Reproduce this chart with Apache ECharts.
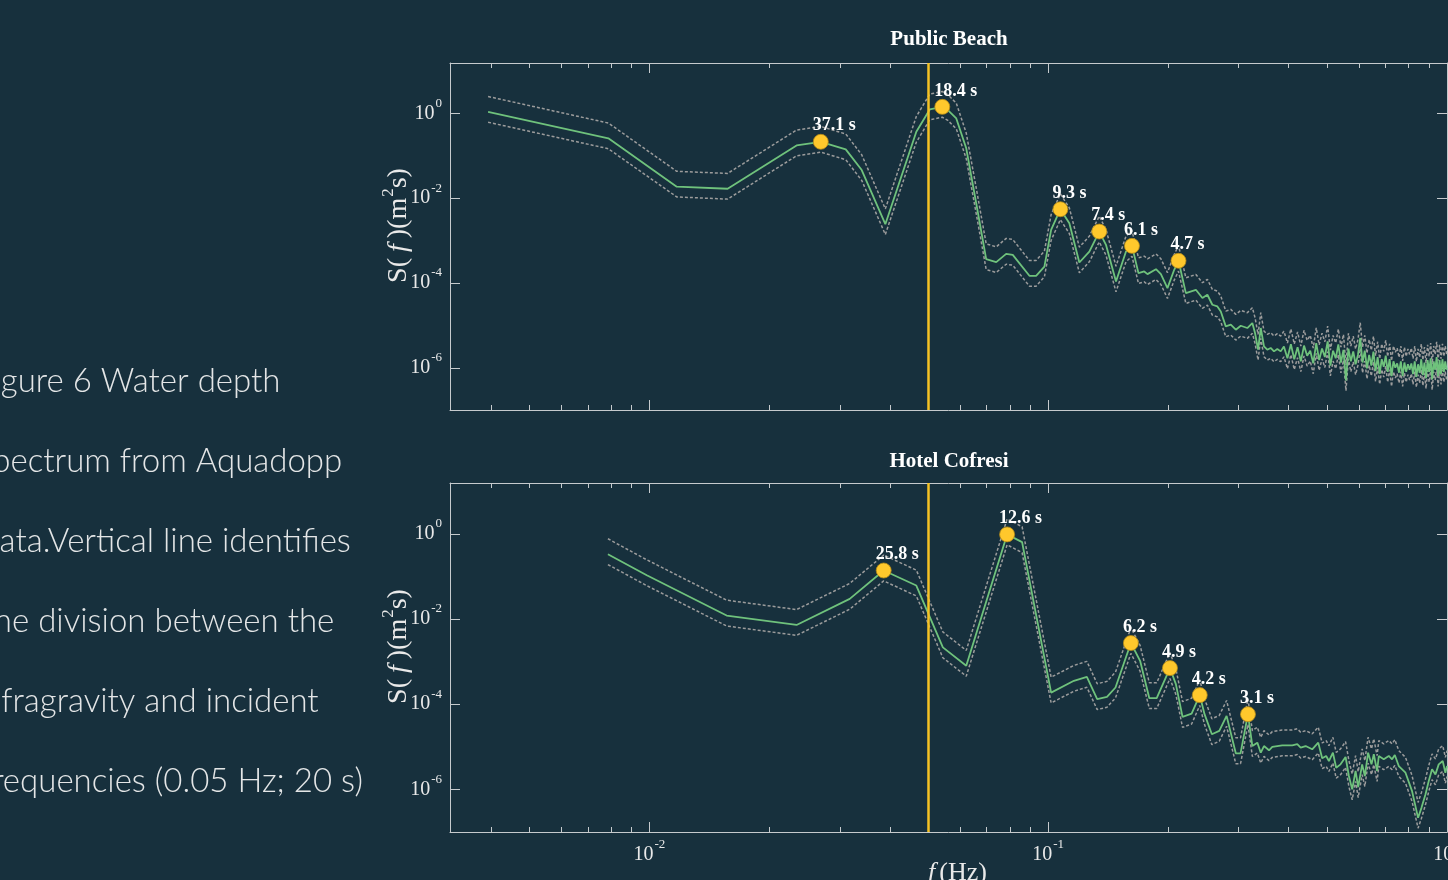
<!DOCTYPE html>
<html><head><meta charset="utf-8">
<script src="https://cdn.jsdelivr.net/npm/echarts@6/dist/echarts.min.js"></script>
<style>html,body{margin:0;padding:0;background:#17303d;overflow:hidden}#chart{width:1448px;height:880px}</style>
</head><body><div id="chart"></div>
<script>
// ---------- Public Beach (top panel) ----------
const pbFreq = [0.00394,0.00789,0.01171,0.01571,0.02339,0.02690,0.03107,0.03407,0.03905,0.04670,
0.05047,0.05426,0.05603,0.05882,0.06230,0.06599,0.06990,0.07408,0.07845,0.08149,
0.08972,0.09326,0.09783,0.1017,0.1073,0.1130,0.1197,0.1268,0.1343,0.1396,
0.1479,0.1567,0.1622,0.1684,0.1741,0.1774,0.1863,0.1917,0.1991,0.2070,
0.2122,0.2214,0.2346,0.2436,0.2507,0.2580,0.2656,0.2709,0.2788,0.2870,
0.2954,0.3040,0.3157,0.3250,0.3301,0.3359,0.3412,0.3476,0.3543,0.3613,
0.3683,0.3754,0.3828,
0.390,0.398,0.406,0.414,0.422,0.430,0.438,0.446,0.454,0.462,
0.470,0.478,0.486,0.494,0.502,0.510,0.518,0.526,0.534,0.542,
0.550,0.558,0.566,0.574,0.582,0.590,0.598,0.606,0.614,0.622,
0.630,0.638,0.646,0.654,0.662,0.670,0.678,0.686,0.694,0.702,
0.710,0.718,0.726,0.734,0.742,0.750,0.758,0.766,0.774,0.782,
0.790,0.798,0.806,0.814,0.822,0.830,0.838,0.846,0.854,0.862,
0.870,0.878,0.886,0.894,0.902,0.910,0.918,0.926,0.934,0.942,
0.950,0.958,0.966,0.974,0.982,0.990,0.998];
const pbSpec = [1.09,0.258,0.0187,0.0167,0.176,0.214,0.142,0.0461,0.00243,0.369,
1.24,1.43,1.20,0.762,0.150,0.00759,3.64e-4,3.09e-4,4.85e-4,4.59e-4,
1.47e-4,1.47e-4,2.43e-4,1.78e-3,5.48e-3,2.56e-3,3.03e-4,5.50e-4,1.63e-3,7.91e-4,
1.08e-4,5.50e-4,7.48e-4,1.70e-4,1.86e-4,1.61e-4,2.11e-4,1.61e-4,7.55e-5,2.04e-4,
3.32e-4,5.75e-5,6.87e-5,4.39e-5,5.25e-5,3.05e-5,2.78e-5,2.12e-5,9.40e-6,1.03e-5,
7.85e-6,9.75e-6,8.61e-6,1.13e-5,6.56e-6,2.65e-6,8.61e-6,3.18e-6,2.65e-6,2.91e-6,
2.42e-6,2.75e-6,2.42e-6,
3.16e-6,1.66e-6,3.55e-6,1.58e-6,3.02e-6,1.41e-6,3.31e-6,1.91e-6,2.51e-6,1.26e-6,
3.80e-6,1.51e-6,2.82e-6,1.78e-6,4.17e-6,1.12e-6,2.51e-6,1.66e-6,3.55e-6,1.32e-6,
2.63e-6,5.01e-7,2.82e-6,1.41e-6,2.40e-6,1.20e-6,2.00e-6,5.01e-6,1.32e-6,2.51e-6,
9.55e-7,2.00e-6,1.12e-6,2.40e-6,8.32e-7,1.78e-6,7.08e-7,1.58e-6,1.05e-6,1.91e-6,
7.94e-7,1.58e-6,6.31e-7,1.41e-6,1.00e-6,1.26e-6,7.59e-7,1.41e-6,6.31e-7,1.32e-6,
7.94e-7,1.20e-6,8.91e-7,1.26e-6,7.08e-7,1.41e-6,6.03e-7,1.20e-6,7.59e-7,1.58e-6,
6.61e-7,1.32e-6,5.62e-7,1.51e-6,7.94e-7,1.66e-6,5.25e-7,1.41e-6,8.91e-7,1.78e-6,
6.31e-7,1.51e-6,7.08e-7,1.58e-6,7.94e-7,1.41e-6,8.91e-7];
const pbUpper = [2.51,0.593,0.0430,0.0384,0.405,0.492,0.327,0.106,0.00559,0.849,
2.85,3.29,2.76,1.75,0.345,0.0175,8.37e-4,7.11e-4,1.12e-3,1.06e-3,
3.38e-4,3.38e-4,5.59e-4,4.09e-3,1.26e-2,5.89e-3,6.97e-4,1.27e-3,3.75e-3,1.82e-3,
2.48e-4,1.27e-3,1.72e-3,3.91e-4,4.28e-4,3.70e-4,4.85e-4,3.70e-4,1.74e-4,4.69e-4,
7.64e-4,1.32e-4,1.58e-4,1.01e-4,1.21e-4,7.02e-5,6.39e-5,4.88e-5,2.16e-5,2.37e-5,
1.81e-5,2.24e-5,1.98e-5,2.60e-5,1.51e-5,6.10e-6,1.98e-5,7.31e-6,6.10e-6,6.69e-6,
5.57e-6,6.33e-6,5.57e-6,
7.27e-6,3.82e-6,8.17e-6,3.63e-6,6.95e-6,3.24e-6,7.61e-6,4.39e-6,5.77e-6,2.90e-6,
8.74e-6,3.47e-6,6.49e-6,4.09e-6,9.59e-6,2.58e-6,5.77e-6,3.82e-6,8.17e-6,3.04e-6,
6.05e-6,1.15e-6,6.49e-6,3.24e-6,5.52e-6,2.76e-6,4.60e-6,1.15e-5,3.04e-6,5.77e-6,
2.20e-6,4.60e-6,2.58e-6,5.52e-6,1.91e-6,4.09e-6,1.63e-6,3.63e-6,2.42e-6,4.39e-6,
1.83e-6,3.63e-6,1.45e-6,3.24e-6,2.30e-6,2.90e-6,1.75e-6,3.24e-6,1.45e-6,3.04e-6,
1.83e-6,2.76e-6,2.05e-6,2.90e-6,1.63e-6,3.24e-6,1.39e-6,2.76e-6,1.75e-6,3.63e-6,
1.52e-6,3.04e-6,1.29e-6,3.47e-6,1.83e-6,3.82e-6,1.21e-6,3.24e-6,2.05e-6,4.09e-6,
1.45e-6,3.47e-6,1.63e-6,3.63e-6,1.83e-6,3.24e-6,2.05e-6];
const pbLower = [0.62,0.147,0.0107,0.0095,0.100,0.122,0.081,0.0263,0.00139,0.210,
0.707,0.815,0.684,0.434,0.0855,0.00433,2.07e-4,1.76e-4,2.76e-4,2.62e-4,
8.38e-5,8.38e-5,1.39e-4,1.01e-3,3.12e-3,1.46e-3,1.73e-4,3.14e-4,9.29e-4,4.51e-4,
6.16e-5,3.14e-4,4.26e-4,9.69e-5,1.06e-4,9.18e-5,1.20e-4,9.18e-5,4.30e-5,1.16e-4,
1.89e-4,3.28e-5,3.92e-5,2.50e-5,2.99e-5,1.74e-5,1.58e-5,1.21e-5,5.36e-6,5.87e-6,
4.47e-6,5.56e-6,4.91e-6,6.44e-6,3.74e-6,1.51e-6,4.91e-6,1.81e-6,1.51e-6,1.66e-6,
1.38e-6,1.57e-6,1.38e-6,
1.80e-6,9.46e-7,2.02e-6,9.01e-7,1.72e-6,8.04e-7,1.89e-6,1.09e-6,1.43e-6,7.18e-7,
2.17e-6,8.61e-7,1.61e-6,1.01e-6,2.38e-6,6.38e-7,1.43e-6,9.46e-7,2.02e-6,7.52e-7,
1.50e-6,2.86e-7,1.61e-6,8.04e-7,1.37e-6,6.84e-7,1.14e-6,2.86e-6,7.52e-7,1.43e-6,
5.44e-7,1.14e-6,6.38e-7,1.37e-6,4.74e-7,1.01e-6,4.04e-7,9.01e-7,5.99e-7,1.09e-6,
4.53e-7,9.01e-7,3.60e-7,8.04e-7,5.70e-7,7.18e-7,4.33e-7,8.04e-7,3.60e-7,7.52e-7,
4.53e-7,6.84e-7,5.08e-7,7.18e-7,4.04e-7,8.04e-7,3.44e-7,6.84e-7,4.33e-7,9.01e-7,
3.77e-7,7.52e-7,3.20e-7,8.61e-7,4.53e-7,9.46e-7,2.99e-7,8.04e-7,5.08e-7,1.01e-6,
3.60e-7,8.61e-7,4.04e-7,9.01e-7,4.53e-7,8.04e-7,5.08e-7];
const pbPeakFreq = [0.02690,0.05426,0.1073,0.1343,0.1622,0.2122];
const pbPeakSpec = [0.214,1.43,5.48e-3,1.63e-3,7.48e-4,3.32e-4];
const pbPeakLabels = ['37.1 s','18.4 s','9.3 s','7.4 s','6.1 s','4.7 s'];

// ---------- Hotel Cofresi (bottom panel) ----------
const hcFreq = [0.00787,0.00985,0.01562,0.02339,0.03179,0.03868,0.04670,0.05443,0.06230,0.07888,
0.0860,0.1017,0.1160,0.1250,0.1327,0.1404,0.1475,0.1612,0.1700,0.1793,
0.1871,0.2020,0.2090,0.2172,0.2289,0.2399,0.2466,0.2573,0.2685,0.2801,
0.2954,0.3036,0.3169,0.3250,0.3345,0.3412,0.3476,0.3578,0.3647,0.3862,
0.4093,0.4212,0.4296,0.4421,0.4592,0.4755,0.4864,0.4978,0.5057,0.5175,
0.5274,0.5408,0.5568,0.5675,0.5785,0.5899,0.5988,0.6127,0.6223,0.6341,
0.6466,0.6553,0.6679,0.6745,0.6941,0.7145,0.7283,0.7398,0.7570,0.7869,
0.8173,0.8462,0.8629,0.8830,0.9000,0.9173,0.9354,0.9533,0.9755,0.9908,1.0];
const hcSpec = [0.331,0.106,0.0120,0.00723,0.0296,0.137,0.0608,0.00215,7.96e-4,0.964,
0.634,1.87e-4,3.53e-4,4.39e-4,1.31e-4,1.49e-4,2.46e-4,2.72e-3,1.04e-3,1.38e-4,
1.38e-4,7.03e-4,2.96e-4,5.02e-5,6.01e-5,1.63e-4,5.82e-5,1.97e-5,2.36e-5,5.31e-5,
7.03e-6,7.03e-6,5.82e-5,1.04e-5,1.25e-5,7.26e-6,1.04e-5,8.28e-6,9.89e-6,1.08e-5,
1.08e-5,1.15e-5,9.53e-6,1.04e-5,8.73e-6,1.25e-5,5.36e-6,6.08e-6,4.63e-6,7.26e-6,
3.22e-6,3.87e-6,5.75e-6,2.06e-6,1.00e-6,2.70e-6,1.13e-6,3.87e-6,2.06e-6,7.26e-6,
3.87e-6,6.67e-6,2.70e-6,6.08e-6,5.08e-6,6.08e-6,5.08e-6,6.41e-6,3.53e-6,2.46e-6,
9.12e-7,2.15e-7,3.69e-7,7.62e-7,1.57e-6,2.96e-6,2.25e-6,3.87e-6,4.63e-6,2.46e-6,3.53e-6];
const hcUpper = [0.761,0.244,0.0276,0.0166,0.0681,0.315,0.140,0.00495,1.83e-3,2.22,
1.46,4.30e-4,8.12e-4,1.01e-3,3.01e-4,3.43e-4,5.66e-4,6.26e-3,2.39e-3,3.17e-4,
3.17e-4,1.62e-3,6.81e-4,1.15e-4,1.38e-4,3.75e-4,1.34e-4,4.53e-5,5.43e-5,1.22e-4,
1.62e-5,1.62e-5,1.34e-4,2.39e-5,2.88e-5,1.67e-5,2.39e-5,1.90e-5,2.27e-5,2.48e-5,
2.48e-5,2.65e-5,2.19e-5,2.39e-5,2.01e-5,2.88e-5,1.23e-5,1.40e-5,1.06e-5,1.67e-5,
7.41e-6,8.90e-6,1.32e-5,4.74e-6,2.30e-6,6.21e-6,2.60e-6,8.90e-6,4.74e-6,1.67e-5,
8.90e-6,1.53e-5,6.21e-6,1.40e-5,1.17e-5,1.40e-5,1.17e-5,1.47e-5,8.12e-6,5.66e-6,
2.10e-6,4.95e-7,8.49e-7,1.75e-6,3.61e-6,6.81e-6,5.18e-6,8.90e-6,1.06e-5,5.66e-6,8.12e-6];
const hcLower = [0.189,0.0604,0.00684,0.00412,0.0169,0.0781,0.0347,0.00123,4.54e-4,0.549,
0.361,1.07e-4,2.01e-4,2.50e-4,7.47e-5,8.49e-5,1.40e-4,1.55e-3,5.93e-4,7.87e-5,
7.87e-5,4.01e-4,1.69e-4,2.86e-5,3.43e-5,9.29e-5,3.32e-5,1.12e-5,1.35e-5,3.03e-5,
4.01e-6,4.01e-6,3.32e-5,5.93e-6,7.13e-6,4.14e-6,5.93e-6,4.72e-6,5.64e-6,6.16e-6,
6.16e-6,6.56e-6,5.43e-6,5.93e-6,4.98e-6,7.13e-6,3.06e-6,3.47e-6,2.64e-6,4.14e-6,
1.84e-6,2.21e-6,3.28e-6,1.17e-6,5.70e-7,1.54e-6,6.44e-7,2.21e-6,1.17e-6,4.14e-6,
2.21e-6,3.80e-6,1.54e-6,3.47e-6,2.90e-6,3.47e-6,2.90e-6,3.65e-6,2.01e-6,1.40e-6,
5.20e-7,1.23e-7,2.10e-7,4.34e-7,8.95e-7,1.69e-6,1.28e-6,2.21e-6,2.64e-6,1.40e-6,2.01e-6];
const hcPeakFreq = [0.03868,0.07888,0.1612,0.2020,0.2399,0.3169];
const hcPeakSpec = [0.137,0.964,2.72e-3,7.03e-4,1.63e-4,5.82e-5];
const hcPeakLabels = ['25.8 s','12.6 s','6.2 s','4.9 s','4.2 s','3.1 s'];

// ---------- axes / ticks ----------
const panelTitles = ['Public Beach', 'Hotel Cofresi'];
const dividerFreq = 0.05;
const xRange = [0.0031623, 1];
const yRange = [1e-7, 15.5];
const xMajorTicks = [0.01, 0.1];
const xMinorTicks = [0.004,0.005,0.006,0.007,0.008,0.009,0.02,0.03,0.04,0.05,0.06,0.07,0.08,0.09,0.2,0.3,0.4,0.5,0.6,0.7,0.8,0.9];
const yMajorTicks = [1, 1e-2, 1e-4, 1e-6];
const captionLines = ['Figure 6 Water depth','Spectrum from Aquadopp','Data.Vertical line identifies','The division between the','Infragravity and incident','Frequencies (0.05 Hz; 20 s)'];

const serif = '"Liberation Serif","Times New Roman",serif';
const axisColor = '#c6cacd';
const textColor = '#e9e9e9';
const greenColor = '#6fc27c';
const grayColor = '#9c9c9c';
const gold = '#f6c224';

function expLabel(v, step) {
  const lg = Math.log10(v);
  const e = Math.round(lg);
  if (Math.abs(lg - e) > 1e-6) return '';
  if (e % step !== 0) return '';
  return '{b|10}{s|' + e + '}';
}
const labelRich = {
  b: {fontFamily: serif, fontSize: 20, color: textColor},
  s: {fontFamily: serif, fontSize: 13, color: textColor, padding: [0, 0, 20, 1]}
};
const nameRich = {
  n: {fontFamily: serif, fontSize: 28, color: textColor},
  i: {fontFamily: serif, fontSize: 28, fontStyle: 'italic', color: textColor, padding: [0, 6, 0, 6]},
  u: {fontFamily: serif, fontSize: 17, color: textColor, padding: [0, 0, 20, 1]}
};

const grids = [
  {left: 450, top: 63, width: 997, height: 347, outerBoundsMode: 'none', containLabel: false},
  {left: 450, top: 483, width: 997, height: 349, outerBoundsMode: 'none', containLabel: false}
];

const xAxes = [], yAxes = [];
[0, 1].forEach(g => {
  const base = {type: 'log', logBase: 10, gridIndex: g, min: xRange[0], max: xRange[1],
    axisLine: {show: true, lineStyle: {color: axisColor, width: 1}},
    axisTick: {show: false}, splitLine: {show: false}, minorTick: {show: false}};
  xAxes.push(Object.assign({}, base, {position: 'bottom',
    axisLabel: {show: g === 1, formatter: v => expLabel(v, 1), rich: labelRich, margin: 6, hideOverlap: false},
    name: g === 1 ? '{i|f}{n|(Hz)}' : '', nameLocation: 'middle', nameGap: 28, nameMoveOverlap: false,
    nameTextStyle: {fontFamily: serif, fontSize: 26, color: textColor, rich: {
      i: {fontFamily: serif, fontSize: 26, fontStyle: 'italic', color: textColor, padding: [0, 4, 0, 18]},
      n: {fontFamily: serif, fontSize: 26, color: textColor}}}}));
  xAxes.push(Object.assign({}, base, {position: 'top', axisLabel: {show: false}}));
  const ybase = {type: 'log', logBase: 10, gridIndex: g, min: yRange[0], max: yRange[1],
    axisLine: {show: true, lineStyle: {color: axisColor, width: 1}},
    axisTick: {show: false}, splitLine: {show: false}, minorTick: {show: false}};
  yAxes.push(Object.assign({}, ybase, {position: 'left',
    axisLabel: {show: true, formatter: v => expLabel(v, 2), rich: labelRich, margin: 8},
    name: '{n|S(}{i|f}{n|)(m}{u|2}{n|s)}', nameLocation: 'middle', nameRotate: 90, nameGap: 33, nameMoveOverlap: false,
    nameTextStyle: {fontFamily: serif, fontSize: 28, color: textColor, padding: [0, 0, 0, 22], rich: nameRich}}));
  yAxes.push(Object.assign({}, ybase, {position: 'right', axisLabel: {show: false}}));
});

function tickStyle() { return {stroke: axisColor, lineWidth: 1}; }
function renderXTick(params, api) {
  const cs = params.coordSys;
  const x = Math.round(api.coord([api.value(0), 1])[0]) + 0.5;
  const len = api.value(2);
  const yb = cs.y + cs.height, yt = cs.y;
  return {type: 'group', children: [
    {type: 'line', shape: {x1: x, y1: yb, x2: x, y2: yb - len}, style: tickStyle()},
    {type: 'line', shape: {x1: x, y1: yt, x2: x, y2: yt + len}, style: tickStyle()}
  ]};
}
function renderYTick(params, api) {
  const cs = params.coordSys;
  const y = Math.round(api.coord([0.1, api.value(1)])[1]) + 0.5;
  const len = api.value(2);
  const xl = cs.x, xr = cs.x + cs.width;
  return {type: 'group', children: [
    {type: 'line', shape: {x1: xl, y1: y, x2: xl + len, y2: y}, style: tickStyle()},
    {type: 'line', shape: {x1: xr, y1: y, x2: xr - len, y2: y}, style: tickStyle()}
  ]};
}

const panels = [
  {f: pbFreq, s: pbSpec, up: pbUpper, lo: pbLower, pf: pbPeakFreq, ps: pbPeakSpec, pl: pbPeakLabels},
  {f: hcFreq, s: hcSpec, up: hcUpper, lo: hcLower, pf: hcPeakFreq, ps: hcPeakSpec, pl: hcPeakLabels}
];
const series = [];
panels.forEach((p, g) => {
  const xi = g * 2, yi = g * 2;
  const xTickData = xMajorTicks.map(v => [v, 1, 10]).concat(xMinorTicks.map(v => [v, 1, 5]));
  series.push({type: 'custom', xAxisIndex: xi, yAxisIndex: yi, renderItem: renderXTick, data: xTickData, silent: true, z: 1});
  series.push({type: 'custom', xAxisIndex: xi, yAxisIndex: yi, renderItem: renderYTick, data: yMajorTicks.map(v => [0.1, v, 10]), silent: true, z: 1});
  const dotted = {type: 'line', xAxisIndex: xi, yAxisIndex: yi, showSymbol: false, symbol: 'none', silent: true, z: 2,
    lineStyle: {color: grayColor, width: 1.5, type: [3, 2]}};
  series.push(Object.assign({}, dotted, {data: p.f.map((f, i) => [f, p.up[i]])}));
  series.push(Object.assign({}, dotted, {data: p.f.map((f, i) => [f, p.lo[i]])}));
  series.push({type: 'line', xAxisIndex: xi, yAxisIndex: yi, showSymbol: false, symbol: 'none', silent: true, z: 3,
    lineStyle: {color: greenColor, width: 1.8},
    data: p.f.map((f, i) => [f, p.s[i]]),
    markLine: {silent: true, symbol: ['none', 'none'], label: {show: false}, z: 5,
      lineStyle: {color: gold, width: 2.5, type: 'solid'}, emphasis: {disabled: true},
      data: [{xAxis: dividerFreq}]}});
  series.push({type: 'scatter', xAxisIndex: xi, yAxisIndex: yi, z: 6, symbol: 'circle', symbolSize: 15, silent: true,
    itemStyle: {color: '#ffc82c', borderColor: '#b58a16', borderWidth: 0.8, opacity: 1},
    label: {show: true, position: 'inside', align: 'left', verticalAlign: 'middle', offset: [-8, -16],
      formatter: q => q.data[2], color: '#ffffff', textBorderWidth: 0, textShadowBlur: 0,
      fontFamily: serif, fontWeight: 'bold', fontSize: 18},
    data: p.pf.map((f, i) => [f, p.ps[i], p.pl[i]])});
});

const graphic = [];
const captionY = [381, 461, 541, 621, 701, 781];
captionLines.forEach((t, i) => {
  graphic.push({type: 'text', x: -25, y: captionY[i], silent: true,
    style: {text: t, font: '300 33px Lato', fill: '#e4e6e7', textAlign: 'left', textVerticalAlign: 'middle', align: 'left', verticalAlign: 'middle'}});
});
const titleY = [39.5, 462];
panelTitles.forEach((t, i) => {
  graphic.push({type: 'text', x: 949, y: titleY[i], silent: true,
    style: {text: t, font: 'bold 21px "Liberation Serif"', fill: '#ffffff', textAlign: 'center', textVerticalAlign: 'middle', align: 'center', verticalAlign: 'middle'}});
});

const chart = echarts.init(document.getElementById('chart'), null, {renderer: 'canvas'});
chart.setOption({
  backgroundColor: '#17303d',
  animation: false,
  grid: grids,
  xAxis: xAxes,
  yAxis: yAxes,
  series: series,
  graphic: graphic
});
</script></body></html>
